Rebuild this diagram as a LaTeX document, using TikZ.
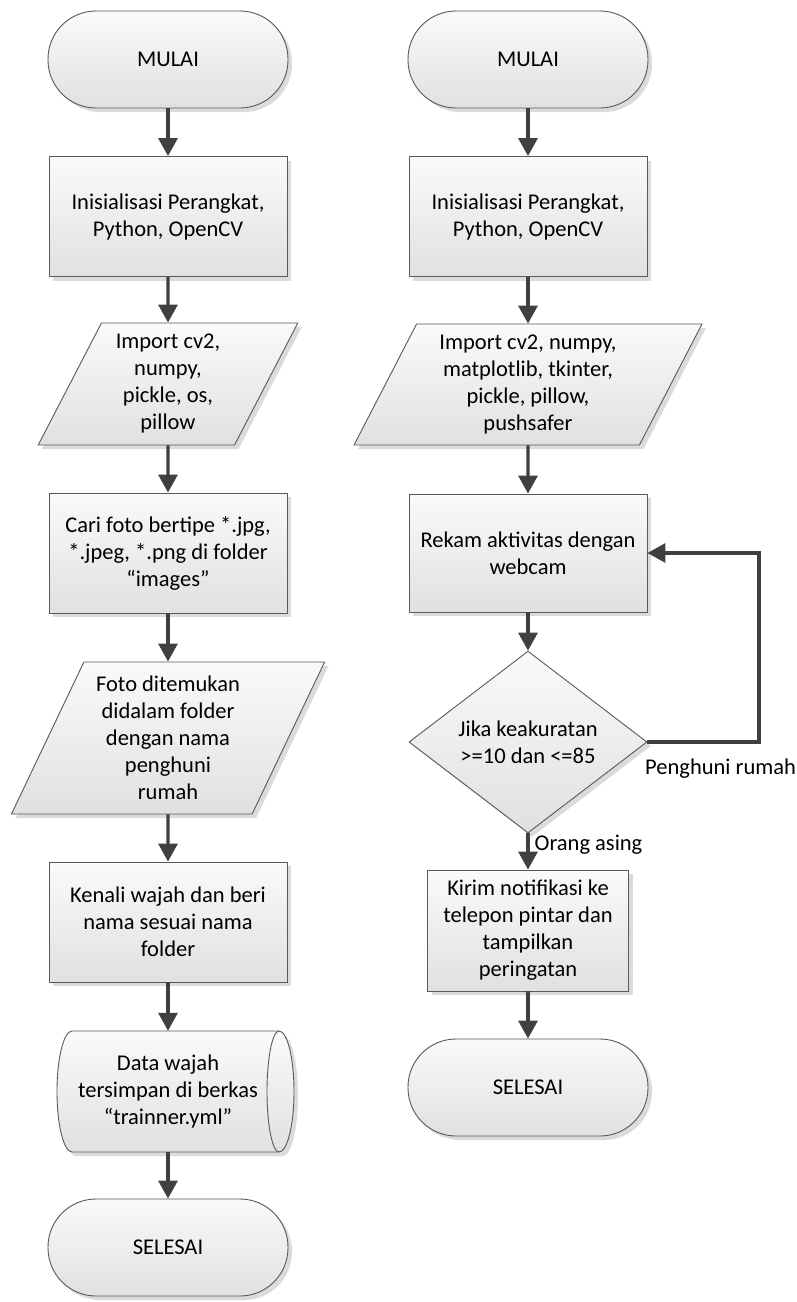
\documentclass[tikz,border=0pt]{standalone}
\usepackage{fontspec}
\setmainfont{Carlito}
\usetikzlibrary{shapes.geometric,arrows.meta,shadows}

\begin{document}
\begin{tikzpicture}[x=1pt,y=1pt,
  font=\fontsize{22.5}{27}\selectfont,
  shapebase/.style={draw=black!65,line width=0.9pt,top color=black!2,bottom color=black!12,
    drop shadow={shadow xshift=4pt,shadow yshift=-4pt,opacity=1,fill=black!14}},
  terminal/.style={shapebase,rectangle,rounded corners=48pt,minimum width=240pt,minimum height=97pt,align=center},
  process/.style={shapebase,rectangle,minimum width=238pt,minimum height=120pt,align=center,inner sep=2pt},
  io/.style={shapebase,trapezium,trapezium left angle=63.4,trapezium right angle=116.6,
    trapezium stretches=true,align=center,inner sep=0pt},
  decision/.style={shapebase,diamond,minimum width=238pt,minimum height=160pt,align=center,inner sep=0pt},
  flow/.style={draw=black!75,line width=3.3pt,-{Triangle[length=18pt,width=19pt]}},
  branch/.style={inner sep=0pt}]
\useasboundingbox (0,0) rectangle (796,-1302);

\node[terminal] (mulaiL) at (168,-59.5) {MULAI};
\node[process] (initL) at (168,-216.5) {Inisialisasi Perangkat,\\ Python, OpenCV};
\node[io,minimum width=260pt,minimum height=122pt] (importL) at (168,-384) {Import cv2,\\ numpy,\\ pickle, os,\\ pillow};
\node[process] (cariL) at (168,-553) {Cari foto bertipe *.jpg,\\ *.jpeg, *.png di folder\\ “images”};
\node[io,minimum width=314pt,minimum height=152pt] (fotoL) at (168,-738) {Foto ditemukan\\ didalam folder\\ dengan nama\\ penghuni\\ rumah};
\node[process] (kenaliL) at (168,-922) {Kenali wajah dan beri\\ nama sesuai nama\\ folder};
\path[shapebase] (72,-1031) -- (279,-1031) arc[start angle=90,end angle=-90,x radius=15,y radius=60.5]
  -- (72,-1152) arc[start angle=270,end angle=90,x radius=15,y radius=60.5] -- cycle;
\draw[draw=black!65,line width=0.9pt] (279,-1031) arc[start angle=90,end angle=270,x radius=12,y radius=60.5];
\node[minimum width=238pt,minimum height=121pt,align=center] (dataL) at (168,-1091.5) {Data wajah\\ tersimpan di berkas\\ “trainner.yml”};
\node[terminal] (selesaiL) at (168,-1247.5) {SELESAI};

\node[terminal] (mulaiR) at (528,-59.5) {MULAI};
\node[process] (initR) at (528,-216.5) {Inisialisasi Perangkat,\\ Python, OpenCV};
\node[io,minimum width=348pt,minimum height=121pt] (importR) at (528,-384.5) {Import cv2, numpy,\\ matplotlib, tkinter,\\ pickle, pillow,\\ pushsafer};
\node[process,minimum height=118pt] (rekamR) at (528,-553) {Rekam aktivitas dengan\\ webcam};
\node[decision] (decR) at (528,-742) {Jika keakuratan\\ >=10 dan <=85};
\node[process,minimum width=201pt,minimum height=121pt] (kirimR) at (528,-930.5) {Kirim notifikasi ke\\ telepon pintar dan\\ tampilkan\\ peringatan};
\node[terminal] (selesaiR) at (528,-1087.5) {SELESAI};
\coordinate (loopR) at (759,-742);

\draw[flow] (mulaiL) -- (initL);
\draw[flow] (initL) -- (importL);
\draw[flow] (importL) -- (cariL);
\draw[flow] (cariL) -- (fotoL);
\draw[flow] (fotoL) -- (kenaliL);
\draw[flow] (kenaliL) -- (dataL);
\draw[flow] (dataL) -- (selesaiL);

\draw[flow] (mulaiR) -- (initR);
\draw[flow] (initR) -- (importR);
\draw[flow] (importR) -- (rekamR);
\draw[flow] (rekamR) -- (decR);
\draw[flow] (decR) -- (kirimR) node[branch,pos=0.3,anchor=west,xshift=5pt] (asing) {Orang asing};
\draw[flow] (decR.east) -- (loopR) |- (rekamR.east);
\draw[flow] (kirimR) -- (selesaiR);
\node[branch,anchor=north west] (penghuni) at (645,-759) {Penghuni rumah};
\end{tikzpicture}
\end{document}
